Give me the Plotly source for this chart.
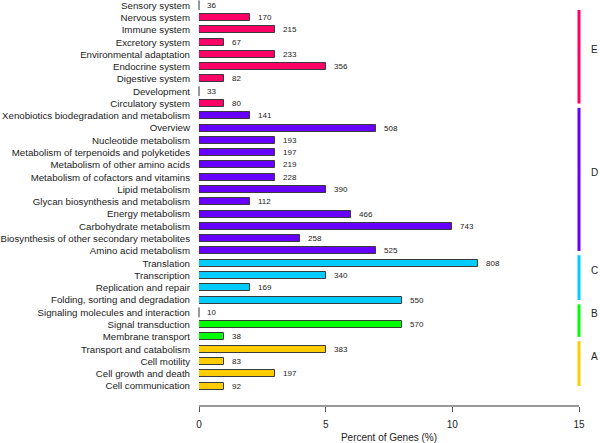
import plotly.graph_objects as go

# Categories listed top-to-bottom as in the picture
categories = [
    "Sensory system", "Nervous system", "Immune system", "Excretory system",
    "Environmental adaptation", "Endocrine system", "Digestive system",
    "Development", "Circulatory system",
    "Xenobiotics biodegradation and metabolism", "Overview",
    "Nucleotide metabolism", "Metabolism of terpenoids and polyketides",
    "Metabolism of other amino acids", "Metabolism of cofactors and vitamins",
    "Lipid metabolism", "Glycan biosynthesis and metabolism",
    "Energy metabolism", "Carbohydrate metabolism",
    "Biosynthesis of other secondary metabolites", "Amino acid metabolism",
    "Translation", "Transcription", "Replication and repair",
    "Folding, sorting and degradation",
    "Signaling molecules and interaction", "Signal transduction",
    "Membrane transport",
    "Transport and catabolism", "Cell motility", "Cell growth and death",
    "Cell communication",
]
groups = (["E"] * 9 + ["D"] * 12 + ["C"] * 4 + ["B"] * 3 + ["A"] * 4)
gene_counts = [36, 170, 215, 67, 233, 356, 82, 33, 80,
               141, 508, 193, 197, 219, 228, 390, 112, 466, 743, 258, 525,
               808, 340, 169, 550,
               10, 570, 38,
               383, 83, 197, 92]
percent_genes = [0, 2, 3, 1, 3, 5, 1, 0, 1,
                 2, 7, 3, 3, 3, 3, 5, 2, 6, 10, 4, 7,
                 11, 5, 2, 8,
                 0, 8, 1,
                 5, 1, 3, 1]
group_names = ["A", "B", "C", "D", "E"]
group_colors = {"E": "#FF0066", "D": "#6600FF", "C": "#00CCFF",
                "B": "#00FF00", "A": "#FFCC00"}
x_ticks = [0, 5, 10, 15]

order_bottom_up = categories[::-1]
idx = {c: i for i, c in enumerate(order_bottom_up)}
Y_MIN, Y_MAX = -1.547, 31.43
BRACKET_TOP = 30.62

fig = go.Figure()

bar_colors = [group_colors[g] for g in groups]
fig.add_trace(go.Bar(
    y=categories, x=percent_genes, orientation="h",
    width=0.57,
    marker=dict(color=bar_colors, line=dict(color="#3a3a3a", width=1)),
    showlegend=False, hoverinfo="x+y",
))

# zero-valued bars drawn as thin vertical ticks
zero_cats = [c for c, p in zip(categories, percent_genes) if p == 0]
zero_vals = [p for p in percent_genes if p == 0]
fig.add_trace(go.Scatter(
    y=zero_cats, x=zero_vals, mode="markers",
    marker=dict(symbol="line-ns", size=7, line=dict(color="#333333", width=1)),
    cliponaxis=False, showlegend=False, hoverinfo="skip",
))

annotations = []
for c, p, n in zip(categories, percent_genes, gene_counts):
    annotations.append(dict(
        x=p, y=c, xref="x", yref="y", text=str(n), showarrow=False,
        xanchor="left", yanchor="middle", xshift=6,
        font=dict(size=8, color="#222222"),
    ))

shapes = []
for g in group_names:
    members = [idx[c] for c, gg in zip(categories, groups) if gg == g]
    lo = min(members)
    hi = min(max(members) + 0.65, BRACKET_TOP)
    shapes.append(dict(
        type="line", xref="paper", yref="y", x0=1.0, x1=1.0, y0=lo, y1=hi,
        line=dict(color=group_colors[g], width=3),
    ))
    mid = (lo + hi) / 2 + 0.55
    annotations.append(dict(
        x=1.042, y=mid, xref="paper", yref="y", text=g, showarrow=False,
        xanchor="center", yanchor="middle",
        font=dict(size=10, color="#222222"),
    ))

fig.update_layout(
    width=600, height=443,
    margin=dict(l=199, r=21, t=0, b=38, autoexpand=False),
    paper_bgcolor="white", plot_bgcolor="white",
    font=dict(family="Liberation Sans, Arial, sans-serif", size=10, color="#222222"),
    bargap=0,
    shapes=shapes, annotations=annotations,
    xaxis=dict(
        range=[0, 15], tickvals=x_ticks, ticktext=[str(t) for t in x_ticks],
        showgrid=False, zeroline=False, automargin=False,
        showline=True, linecolor="#999999", linewidth=1.5,
        ticks="outside", ticklen=5, tickwidth=1, tickcolor="#555555",
        tickfont=dict(size=10), ticklabelstandoff=4,
        title=dict(text="Percent of Genes (%)", font=dict(size=10), standoff=5),
    ),
    yaxis=dict(
        type="category", categoryorder="array", categoryarray=order_bottom_up,
        range=[Y_MIN, Y_MAX], showgrid=False, zeroline=False, showline=False,
        automargin=False,
        ticks="", tickfont=dict(size=9.7), ticklabelstandoff=8,
    ),
)

fig.write_html(
    "out.html",
    config={"displayModeBar": False},
    post_script="document.body.style.margin='0';document.body.style.overflow='hidden';",
)
